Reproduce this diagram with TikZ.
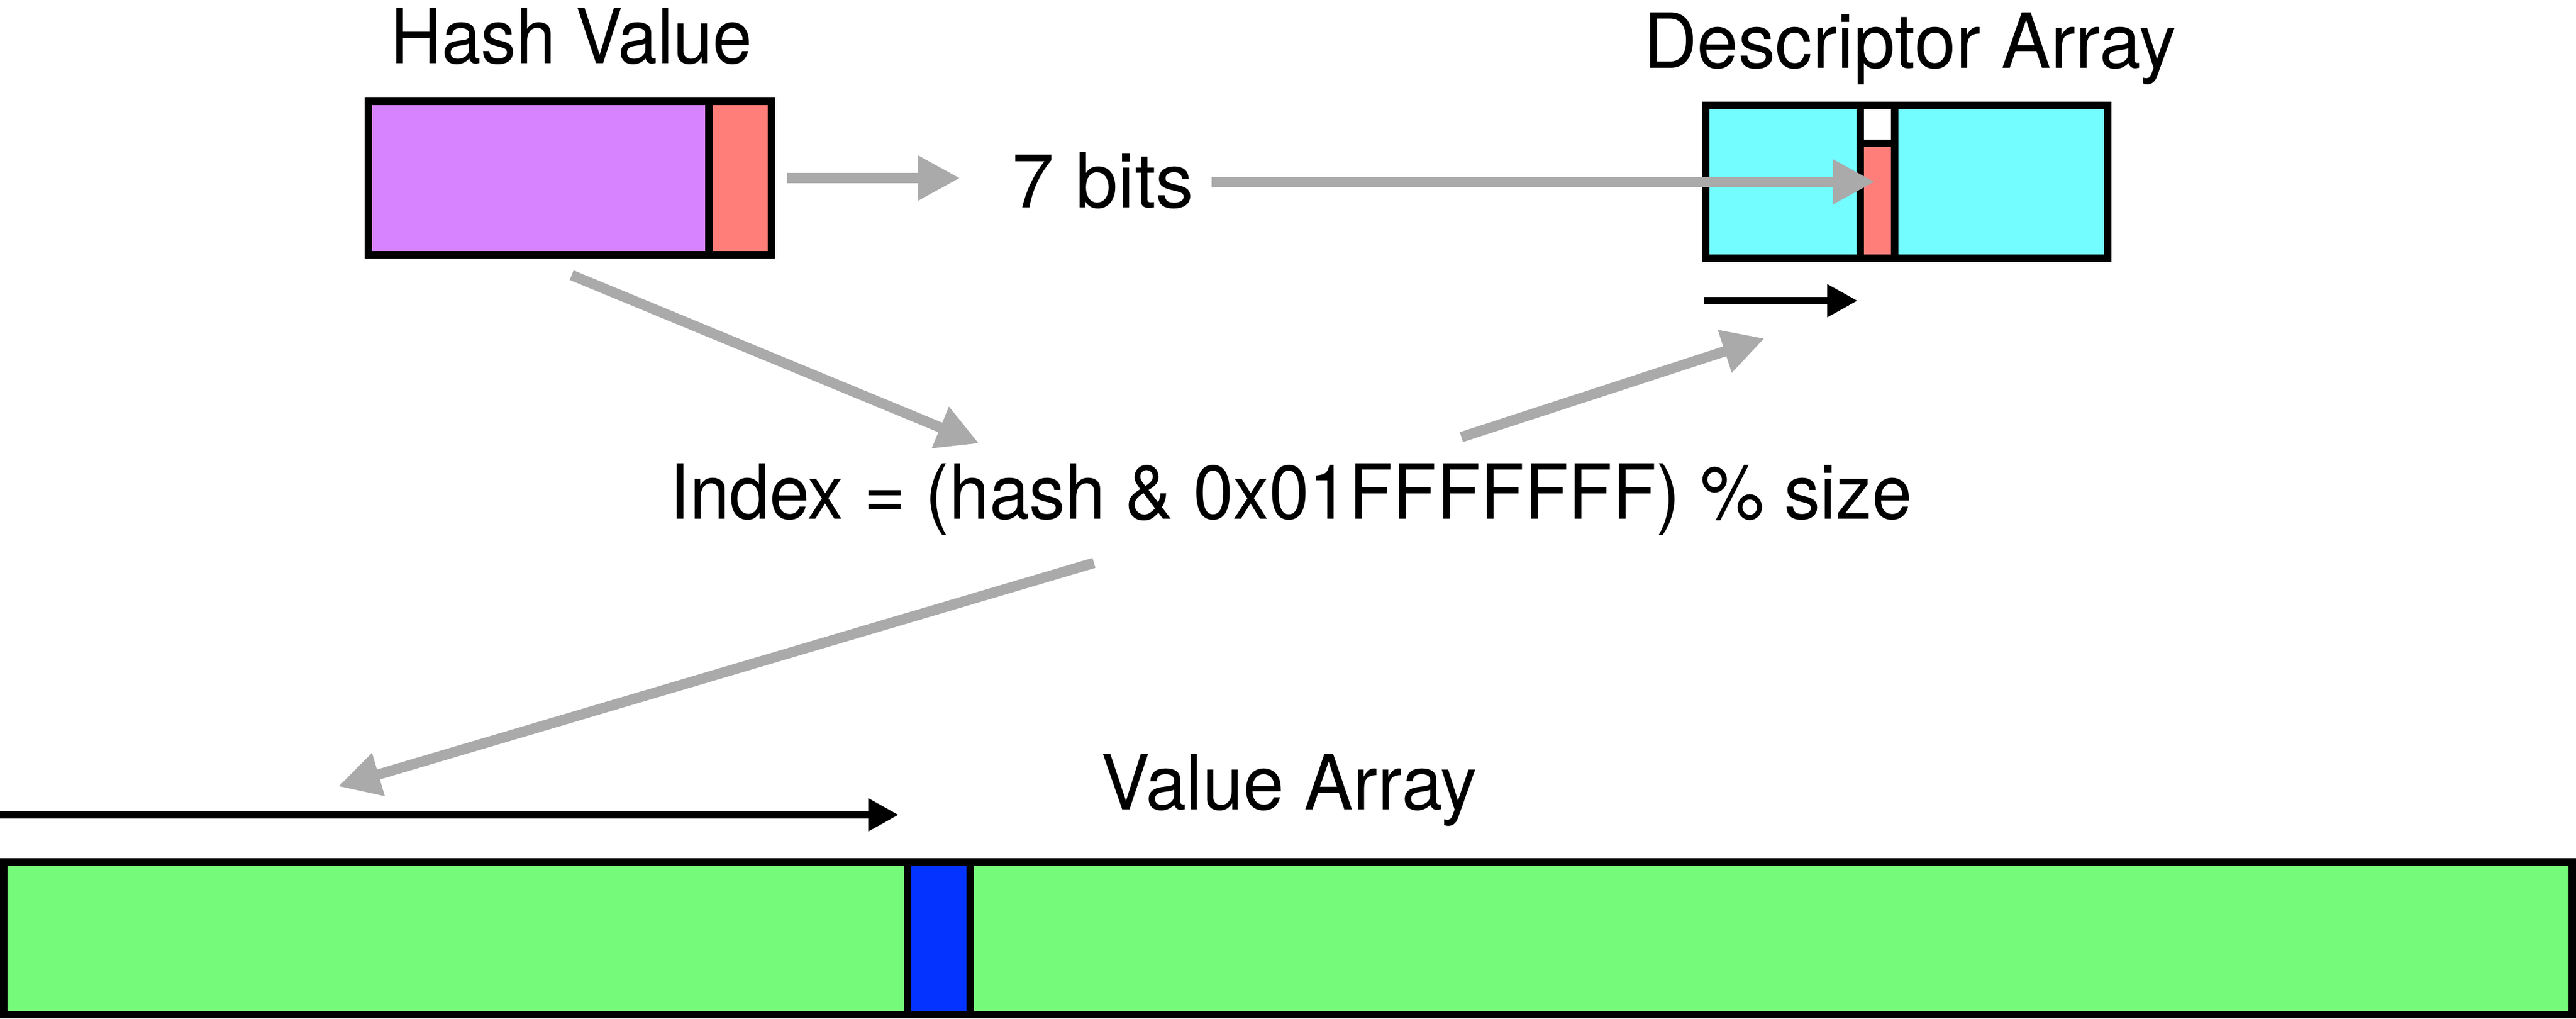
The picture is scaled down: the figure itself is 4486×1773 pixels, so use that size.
\documentclass[tikz,border=0pt]{standalone}
\usepackage{fontspec}
\setmainfont{TeX Gyre Heros}
\usetikzlibrary{arrows.meta}
\definecolor{lav}{HTML}{D783FF}
\definecolor{salmon}{HTML}{FF7E79}
\definecolor{ice}{HTML}{73FDFF}
\definecolor{flora}{HTML}{76FA7A}
\definecolor{berry}{HTML}{0433FF}
\definecolor{agray}{HTML}{AAAAAA}
\newcommand\sx[2]{\scalebox{#1}[1]{#2}}
\begin{document}
\begin{tikzpicture}[x=0.2pt,y=-0.2pt,
  cell/.style={draw=black, line width=2.6pt, inner sep=0pt, outer sep=0pt, rectangle},
  garrow/.style={draw=agray, line width=3.6pt, -{Triangle[length=14.6pt,width=14.6pt]}},
  barrow/.style={draw=black, line width=2.6pt, -{Triangle[length=10.6pt,width=10.8pt]}},
  lbl/.style={font=\fontsize{26.46pt}{30pt}\selectfont, inner sep=0pt, anchor=base}]
\useasboundingbox (0,0) rectangle (4486,1773);
% Hash value
\node[cell, fill=lav, minimum width=118.5pt, minimum height=53.4pt] (hashmain) at (937.75,310) {};
\node[cell, fill=salmon, minimum width=21.8pt, minimum height=53.4pt] (hashbits) at (1288.5,310) {};
% Descriptor array
\node[cell, fill=ice, minimum width=53.8pt, minimum height=53.2pt] (descl) at (3105,316.5) {};
\node[cell, fill=ice, minimum width=74.2pt, minimum height=53.2pt] (descr) at (3485,316.5) {};
\node[cell, fill=white, minimum width=12pt, minimum height=13.1pt] (slotw) at (3269.5,216.25) {};
\node[cell, fill=salmon, minimum width=12pt, minimum height=40.1pt] (slotr) at (3269.5,349.25) {};
% Value array
\node[cell, fill=flora, minimum width=314.7pt, minimum height=53.2pt] (vall) at (793.25,1633.5) {};
\node[cell, fill=berry, minimum width=21.8pt, minimum height=53.2pt] (valslot) at (1634.5,1633.5) {};
\node[cell, fill=flora, minimum width=558.1pt, minimum height=53.2pt] (valr) at (3084.25,1633.5) {};
% Labels
\node[lbl] (thash) at (995,110) {\sx{0.93}{Hash Value}};
\node[lbl] (tdesc) at (3326,118) {\sx{0.977}{Descriptor Array}};
\node[lbl] (tbits) at (1921,361) {\sx{1.0}{7 bits}};
\node[lbl] (tindex) at (2248,903) {\sx{0.946}{Index = (hash \& 0x01FFFFFFF) \% size}};
\node[lbl] (tval) at (2245,1409) {\sx{0.964}{Value Array}};
% Arrow end points
\coordinate (a1s) at (1371,310);  \coordinate (a1e) at (1672,310);
\coordinate (a2s) at (2110,316.5); \coordinate (a2e) at (3265,316.5);
\coordinate (a3s) at (995.5,479);  \coordinate (a3e) at (1705,772);
\coordinate (a4s) at (2545,761);   \coordinate (a4e) at (3073,589);
\coordinate (a5s) at (1905,980);   \coordinate (a5e) at (589,1369);
\coordinate (b1s) at (2967,523.5); \coordinate (b1e) at (3235,523.5);
\coordinate (b2s) at (0,1418.5);   \coordinate (b2e) at (1565,1418.5);
% Arrows
\draw[garrow] (a1s) -- (a1e);
\draw[garrow] (a2s) -- (a2e);
\draw[garrow] (a3s) -- (a3e);
\draw[garrow] (a4s) -- (a4e);
\draw[garrow] (a5s) -- (a5e);
\draw[barrow] (b1s) -- (b1e);
\draw[barrow] (b2s) -- (b2e);
\end{tikzpicture}
\end{document}
